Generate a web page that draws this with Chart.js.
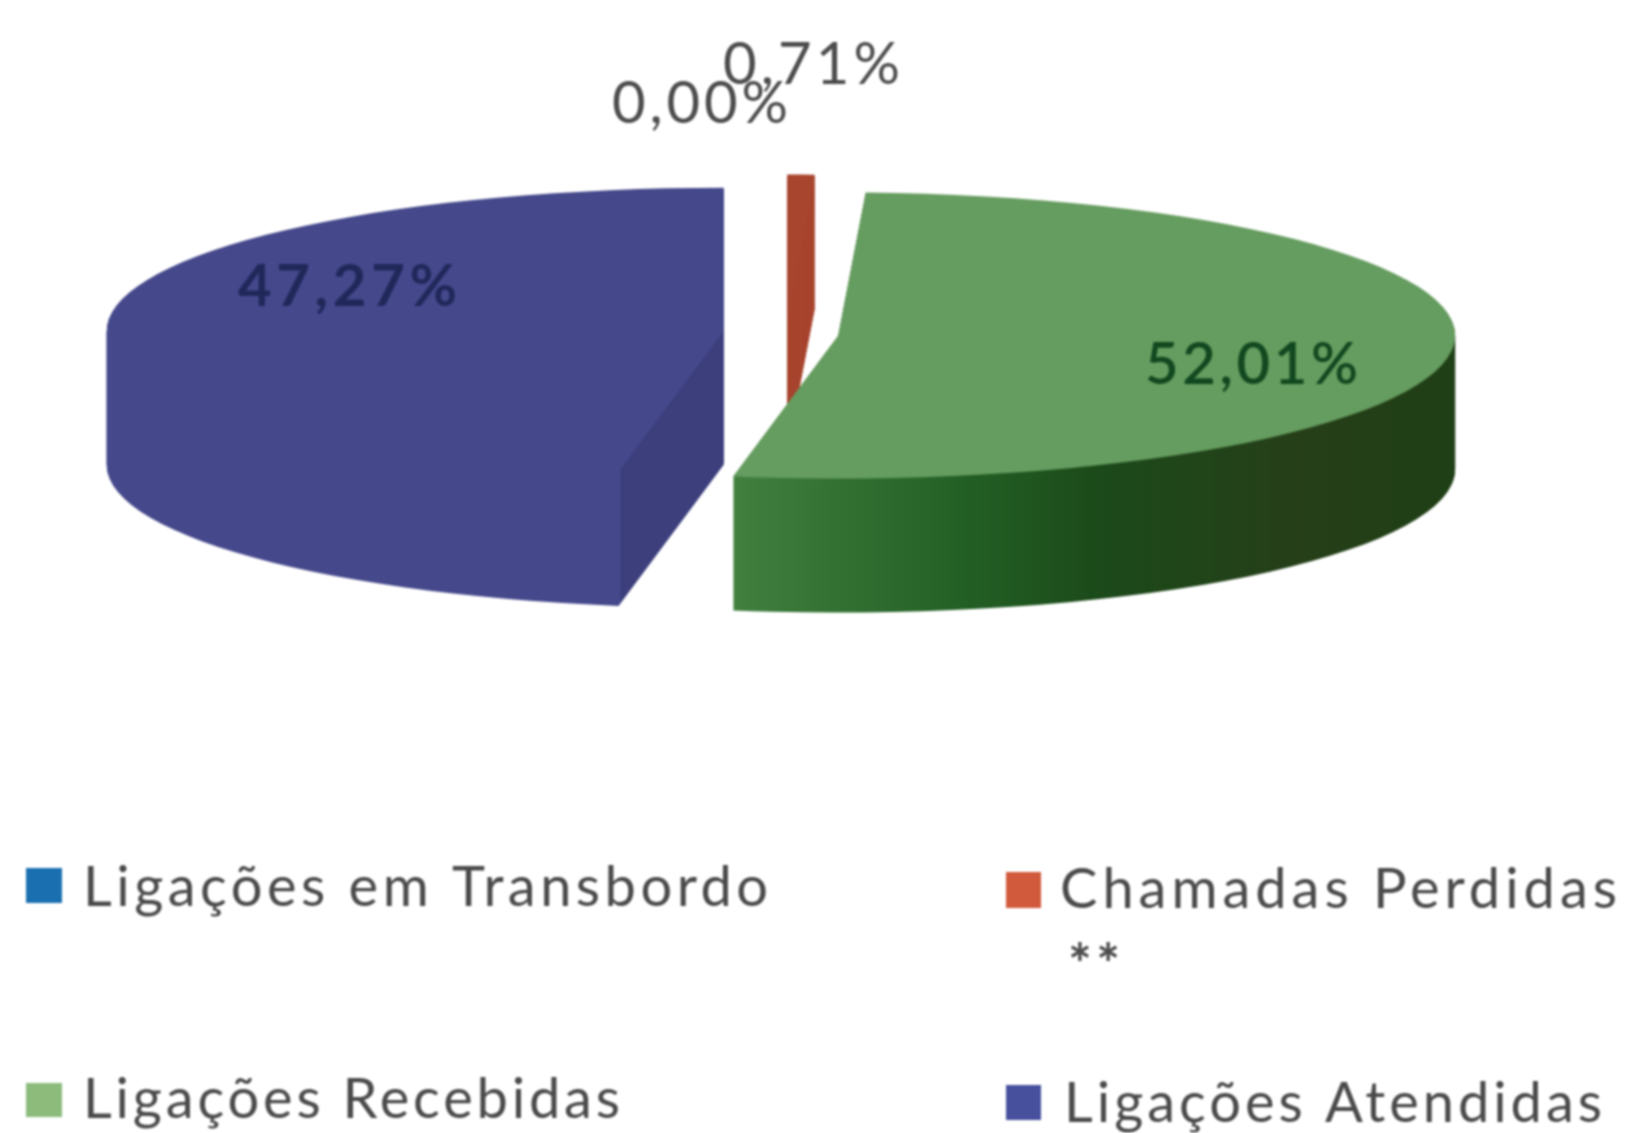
<!DOCTYPE html>
<html><head><meta charset="utf-8">
<script src="https://cdn.jsdelivr.net/npm/chart.js@4"></script>
<style>html,body{margin:0;padding:0;background:#fff}canvas{display:block;filter:blur(1px)}</style>
</head><body><canvas id="c" width="1627" height="1133"></canvas>
<script>
const categories = ['Ligações em Transbordo', 'Chamadas Perdidas **', 'Ligações Recebidas', 'Ligações Atendidas'];
const shares = [0, 0.71, 52.01, 47.27];
const valueLabels = ['0,00%', '0,71%', '52,01%', '47,27%'];
const topColors = ['#1b6fae', '#a8452f', '#659c5f', '#45488b'];
const legendColors = ['#1a6fb0', '#d15a3c', '#8cbb7c', '#46509c'];
const labelColors = ['#4c4c4c', '#4c4c4c', '#12481f', '#20285a'];

const cx = 781, cy = 331, squash = 0.232, depth = 134, explode = 57.5;
const sliceNudges = [[0, 0], [5, 0], [0, 3], [0, 1]];
const canvas = document.getElementById('c');
const ctx0 = canvas.getContext('2d');

function hardGradient(stops) {
  const g = ctx0.createLinearGradient(0, 0, 1627, 0);
  stops.forEach(s => g.addColorStop(s[0] / 1627, s[1]));
  return g;
}
const wallFills = [
  '#1b6fae', '#a8452f',
  hardGradient([[730, '#41803f'], [960, '#236025'], [1100, '#1c4a1a'], [1300, '#263f19'], [1455, '#1f3f16']]),
  hardGradient([[0, '#45488b'], [620, '#45488b'], [621, '#3c3f7c'], [1627, '#3c3f7c']])
];

function fitText(ctx, text, x, y, width, font, color) {
  ctx.font = font;
  ctx.letterSpacing = '0px';
  const w = ctx.measureText(text).width;
  ctx.letterSpacing = text.length > 1 ? ((width - w) / (text.length - 1)).toFixed(3) + 'px' : '0px';
  ctx.fillStyle = color;
  ctx.textBaseline = 'alphabetic';
  ctx.textAlign = 'left';
  ctx.fillText(text, x, y);
  ctx.letterSpacing = '0px';
}
function applySquash(ctx, dy) {
  ctx.translate(0, cy + dy);
  ctx.scale(1, squash);
  ctx.translate(0, -cy);
}
const labelSpots = [[612, 123, 176, '400'], [723, 84, 177, '400'], [1145, 384, 213, '600'], [238, 306, 219, '700']];
const legendSpots = [
  {box: [26, 868, 36, 35], text: [83, 906, 685]},
  {box: [1006, 872, 35, 36], text: [1060, 908, 557], extra: [1068, 984, 52]},
  {box: [26, 1083, 36, 34], text: [83, 1118, 537]},
  {box: [1006, 1085, 35, 35], text: [1064, 1122, 538]}
];

const pie3d = {
  id: 'pie3d',
  afterDatasetUpdate(chart) {
    chart.getDatasetMeta(0).data.forEach((arc, i) => {
      const mid = (arc.startAngle + arc.endAngle) / 2;
      arc.x += Math.cos(mid) * explode + sliceNudges[i][0];
      arc.y += Math.sin(mid) * explode + sliceNudges[i][1] / squash;
    });
  },
  beforeDatasetsDraw(chart) {
    const ctx = chart.ctx, arcs = chart.getDatasetMeta(0).data;
    arcs.forEach((arc, i) => {
      const saved = arc.options;
      arc.options = Object.assign({}, saved, {backgroundColor: wallFills[i]});
      for (let d = depth; d >= 1; d--) {
        ctx.save();
        applySquash(ctx, d);
        arc.draw(ctx);
        ctx.restore();
      }
      arc.options = saved;
    });
    ctx.save();
    applySquash(ctx, 0);
  },
  afterDatasetsDraw(chart) {
    const ctx = chart.ctx;
    ctx.restore();
    valueLabels.forEach((t, i) => {
      const s = labelSpots[i];
      fitText(ctx, t, s[0], s[1], s[2], s[3] + ' 58px Lato', labelColors[i]);
    });
    categories.forEach((name, i) => {
      const s = legendSpots[i];
      ctx.fillStyle = legendColors[i];
      ctx.fillRect(s.box[0], s.box[1], s.box[2], s.box[3]);
      let main = name, extra = null;
      if (s.extra) { const k = name.lastIndexOf(' '); main = name.slice(0, k); extra = name.slice(k + 1); }
      fitText(ctx, main, s.text[0], s.text[1], s.text[2], '400 56px Lato', '#4a4a4a');
      if (extra) fitText(ctx, extra, s.extra[0], s.extra[1], s.extra[2], '700 56px Lato', '#4a4a4a');
    });
  }
};

new Chart(canvas, {
  type: 'pie',
  data: {
    labels: categories,
    datasets: [{
      data: shares,
      backgroundColor: topColors,
      borderWidth: 0,
      clip: false
    }]
  },
  options: {
    responsive: false,
    animation: false,
    events: [],
    radius: 617,
    rotation: 0,
    layout: {padding: {left: 0, right: 65, top: 0, bottom: 471}},
    plugins: {legend: {display: false}, tooltip: {enabled: false}}
  },
  plugins: [pie3d]
});
</script></body></html>
